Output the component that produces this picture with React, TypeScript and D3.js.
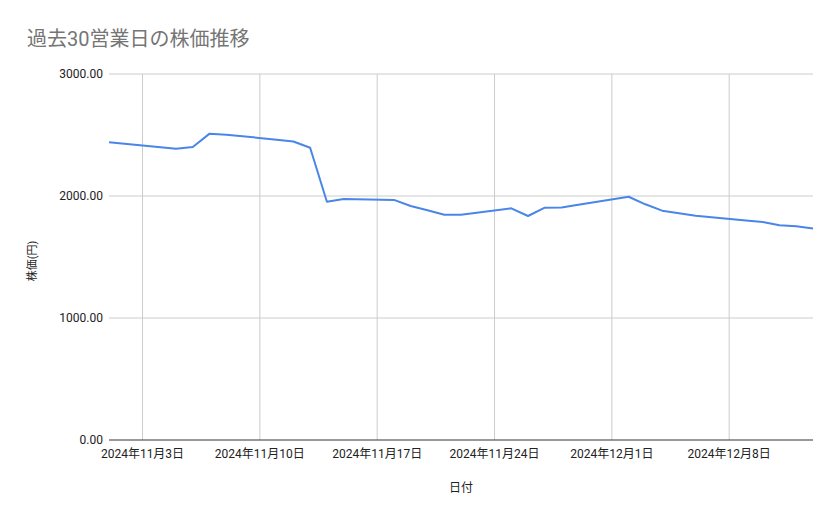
import { useRef, useEffect, RefObject } from 'react';
import * as d3 from 'd3';

// trading days (2024) and closing prices
const dates: string[] = [
  '2024-11-01', '2024-11-05', '2024-11-06', '2024-11-07', '2024-11-08',
  '2024-11-11', '2024-11-12', '2024-11-13', '2024-11-14', '2024-11-15',
  '2024-11-18', '2024-11-19', '2024-11-20', '2024-11-21', '2024-11-22',
  '2024-11-25', '2024-11-26', '2024-11-27', '2024-11-28', '2024-11-29',
  '2024-12-02', '2024-12-03', '2024-12-04', '2024-12-05', '2024-12-06',
  '2024-12-09', '2024-12-10', '2024-12-11', '2024-12-12', '2024-12-13',
];
const prices: number[] = [
  2440, 2388, 2402, 2511, 2503,
  2462, 2447, 2396, 1953, 1975,
  1968, 1918, 1883, 1847, 1847,
  1899, 1836, 1904, 1905, 1928,
  1994, 1932, 1880, 1858, 1839,
  1799, 1787, 1761, 1752, 1733,
];
const yTicks: number[] = [0, 1000, 2000, 3000];
const xTicks: string[] = ['2024-11-03', '2024-11-10', '2024-11-17', '2024-11-24', '2024-12-01', '2024-12-08'];

const title = '過去30営業日の株価推移';
const xTitle = '日付';
const yTitle = '株価(円)';

const LineChart = () => {
  const svgRef: RefObject<SVGSVGElement> = useRef(null);

  useEffect(() => {
    const width = 839;
    const height = 519;
    const margin = { top: 74, right: 26, bottom: 79, left: 109 };
    const parse = d3.utcParse('%Y-%m-%d');
    const data = dates.map((d, i) => ({ date: parse(d) as Date, value: prices[i] }));

    const x = d3
      .scaleUtc()
      .domain(d3.extent(data, (d) => d.date) as [Date, Date])
      .range([margin.left, width - margin.right]);
    const y = d3.scaleLinear().domain([0, 3000]).range([height - margin.bottom, margin.top]);

    const svg = d3
      .select(svgRef.current)
      .attr('width', width)
      .attr('height', height)
      .attr('viewBox', [0, 0, width, height])
      .attr('style', 'position:absolute;left:0;top:0;background:#fff;font-family:Roboto,"Noto Sans CJK JP",sans-serif;');
    svg.selectAll('*').remove();

    svg
      .append('text')
      .attr('x', 27)
      .attr('y', 46)
      .attr('fill', '#757575')
      .attr('font-size', 20)
      .text(title);

    // horizontal grid + y labels
    const gy = svg.append('g');
    gy.selectAll('line')
      .data(yTicks.filter((t) => t > 0))
      .join('line')
      .attr('x1', margin.left)
      .attr('x2', width - margin.right)
      .attr('y1', (d) => y(d))
      .attr('y2', (d) => y(d))
      .attr('stroke', '#cccccc');
    gy.selectAll('text')
      .data(yTicks)
      .join('text')
      .attr('x', margin.left - 6)
      .attr('y', (d) => y(d))
      .attr('dy', '0.35em')
      .attr('text-anchor', 'end')
      .attr('font-size', 12)
      .attr('fill', '#222')
      .text((d) => d3.format('.2f')(d));

    // vertical grid + x labels
    const gx = svg.append('g');
    const tickDates = xTicks.map((t) => parse(t) as Date);
    gx.selectAll('line')
      .data(tickDates)
      .join('line')
      .attr('x1', (d) => x(d))
      .attr('x2', (d) => x(d))
      .attr('y1', margin.top)
      .attr('y2', height - margin.bottom)
      .attr('stroke', '#cccccc');
    gx.selectAll('text')
      .data(tickDates)
      .join('text')
      .attr('x', (d) => x(d))
      .attr('y', height - margin.bottom + 18)
      .attr('text-anchor', 'middle')
      .attr('font-size', 12)
      .attr('fill', '#222')
      .text((d) => d3.utcFormat('%Y年%-m月%-d日')(d));

    // baseline
    svg
      .append('line')
      .attr('x1', margin.left)
      .attr('x2', width - margin.right)
      .attr('y1', y(0))
      .attr('y2', y(0))
      .attr('stroke', '#333');

    svg
      .append('path')
      .datum(data)
      .attr('fill', 'none')
      .attr('stroke', '#4a86e8')
      .attr('stroke-width', 2)
      .attr('stroke-linejoin', 'round')
      .attr('d', d3.line<{ date: Date; value: number }>().x((d) => x(d.date)).y((d) => y(d.value)));

    svg
      .append('text')
      .attr('x', (margin.left + width - margin.right) / 2)
      .attr('y', 492)
      .attr('text-anchor', 'middle')
      .attr('font-size', 12)
      .attr('fill', '#222')
      .text(xTitle);

    svg
      .append('text')
      .attr('transform', 'translate(36,261) rotate(-90)')
      .attr('text-anchor', 'middle')
      .attr('font-size', 11)
      .attr('fill', '#222')
      .text(yTitle);
  }, []);

  return <svg ref={svgRef}></svg>;
};

export default function App() {
  return <LineChart />;
}
